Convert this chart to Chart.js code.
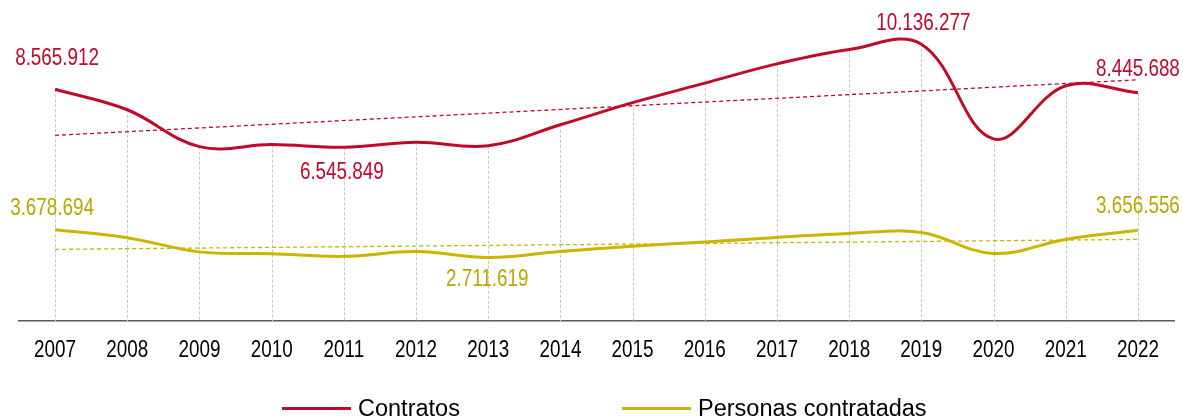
<!DOCTYPE html>
<html>
<head>
<meta charset="utf-8">
<script src="https://cdn.jsdelivr.net/npm/chart.js@4.4.1/dist/chart.umd.min.js"></script>
<style>
  html, body { margin: 0; padding: 0; background: #fff; overflow: hidden; }
  .wrap { position: relative; width: 1183px; height: 416px; }
  .legend { position: absolute; top: 395px; left: 0; width: 1183px; height: 26px;
            font-family: 'Liberation Sans', Arial, sans-serif; font-size: 23.5px; color: #000; }
  .item { position: absolute; top: 0; display: flex; align-items: center; height: 26px; }
  .item span.line { display: inline-block; width: 69px; height: 3px; margin-right: 7px; }
</style>
</head>
<body>
<div class="wrap">
  <canvas class="canvas" width="1183" height="416"></canvas>
  <div class="legend">
    <div class="item" style="left:282px"><span class="line" style="background:#C00A27"></span>Contratos</div>
    <div class="item" style="left:622px"><span class="line" style="background:#CCB400"></span>Personas contratadas</div>
  </div>
</div>
<script>
'use strict';

// datos
const years = ['2007', '2008', '2009', '2010', '2011', '2012', '2013', '2014',
               '2015', '2016', '2017', '2018', '2019', '2020', '2021', '2022'];
const contratos = [8565912, 7854000, 6570000, 6640000, 6545849, 6720000, 6600000, 7330000,
                   8100000, 8780000, 9450000, 9950000, 10136277, 6840000, 8690000, 8445688];
const personas = [3678694, 3400000, 2906000, 2840000, 2750000, 2920000, 2711619, 2920000,
                  3100000, 3250000, 3410000, 3550000, 3580000, 2850000, 3340000, 3656556];
// lineas de tendencia (extremos 2007 y 2022)
const tendContratos = [6962000, 8896000];
const tendPersonas = [2993000, 3340000];

const RED = '#C00A27';
const YELLOW = '#CCB400';
const YELLOW_TXT = '#BBA500';
const FONT = "23px 'Liberation Sans', Arial, sans-serif";
const NARROW = 0.82;   // el texto del original es estrecho

// etiquetas: dataset, indice, desplazamiento
const etiquetas = [
    {ds: 0, i: 0, dx: 2, dy: -31, color: RED},
    {ds: 0, i: 4, dx: -2, dy: 25, color: RED},
    {ds: 0, i: 12, dx: 2, dy: -21, color: RED},
    {ds: 0, i: 15, dx: 0, dy: -23, color: RED},
    {ds: 1, i: 0, dx: -3, dy: -21, color: YELLOW_TXT},
    {ds: 1, i: 6, dx: -1, dy: 22, color: YELLOW_TXT},
    {ds: 1, i: 15, dx: 0, dy: -24, color: YELLOW_TXT}
];

function formatNum(v){
    return String(v).replace(/\B(?=(\d{3})+(?!\d))/g, '.');
}

// texto estrecho centrado en (x, y)
function narrowText(ctx, txt, x, y, color){
    ctx.save();
    ctx.translate(x, y);
    ctx.scale(NARROW, 1);
    ctx.font = FONT;
    ctx.textAlign = 'center';
    ctx.textBaseline = 'middle';
    ctx.fillStyle = color;
    ctx.fillText(txt, 0, 0);
    ctx.restore();
}

/**
 * lineas verticales desde el punto mas alto hasta el eje
 */
const dropLines = {
    id: 'dropLines',
    beforeDatasetsDraw(chart){
        const ctx = chart.ctx;
        const bottom = chart.chartArea.bottom;
        const m0 = chart.getDatasetMeta(0).data;
        const m1 = chart.getDatasetMeta(1).data;
        ctx.save();
        ctx.strokeStyle = '#c4c4c4';
        ctx.lineWidth = 1;
        ctx.setLineDash([3, 2]);
        for (let i = 0; i < m0.length; i++){
            let x = Math.round(m0[i].x) + 0.5;
            let y = Math.min(m0[i].y, m1[i].y);
            ctx.beginPath();
            ctx.moveTo(x, y);
            ctx.lineTo(x, bottom);
            ctx.stroke();
        }
        ctx.restore();
    }
};

/**
 * valores sobre los puntos y años del eje
 */
const textos = {
    id: 'textos',
    afterDatasetsDraw(chart){
        const ctx = chart.ctx;
        etiquetas.forEach(e => {
            let p = chart.getDatasetMeta(e.ds).data[e.i];
            let v = chart.data.datasets[e.ds].data[e.i];
            narrowText(ctx, formatNum(v), p.x + e.dx, p.y + e.dy, e.color);
        });
        const xs = chart.scales.x;
        for (let i = 0; i < years.length; i++){
            narrowText(ctx, years[i], xs.getPixelForTick(i), chart.chartArea.bottom + 30, '#000');
        }
    }
};

const ctx = document.querySelector('.canvas').getContext('2d');

new Chart(ctx, {
    type: 'line',
    data: {
        labels: years,
        datasets: [
            {
                label: 'Contratos',
                data: contratos,
                borderColor: RED,
                borderWidth: 3,
                tension: 0.38,
                pointRadius: 0,
                order: 1
            },
            {
                label: 'Personas contratadas',
                data: personas,
                borderColor: YELLOW,
                borderWidth: 3,
                tension: 0.38,
                pointRadius: 0,
                order: 2
            },
            {
                label: 'Tendencia contratos',
                data: [{x: years[0], y: tendContratos[0]}, {x: years[years.length - 1], y: tendContratos[1]}],
                borderColor: RED,
                borderWidth: 1.3,
                borderDash: [4, 3],
                pointRadius: 0,
                order: 3
            },
            {
                label: 'Tendencia personas',
                data: [{x: years[0], y: tendPersonas[0]}, {x: years[years.length - 1], y: tendPersonas[1]}],
                borderColor: YELLOW,
                borderWidth: 1.3,
                borderDash: [4, 3],
                pointRadius: 0,
                order: 4
            }
        ]
    },
    options: {
        responsive: false,
        animation: false,
        layout: {
            padding: {top: 5, left: 19, right: 9, bottom: 95}
        },
        plugins: {
            legend: {display: false},
            tooltip: {enabled: false}
        },
        scales: {
            x: {
                offset: true,
                grid: {display: false, drawTicks: false},
                border: {display: true, color: '#595959', width: 1.5},
                ticks: {display: false, autoSkip: false}
            },
            y: {
                display: false,
                min: 500000,
                max: 11500000
            }
        }
    },
    plugins: [dropLines, textos]
});
</script>
</body>
</html>
